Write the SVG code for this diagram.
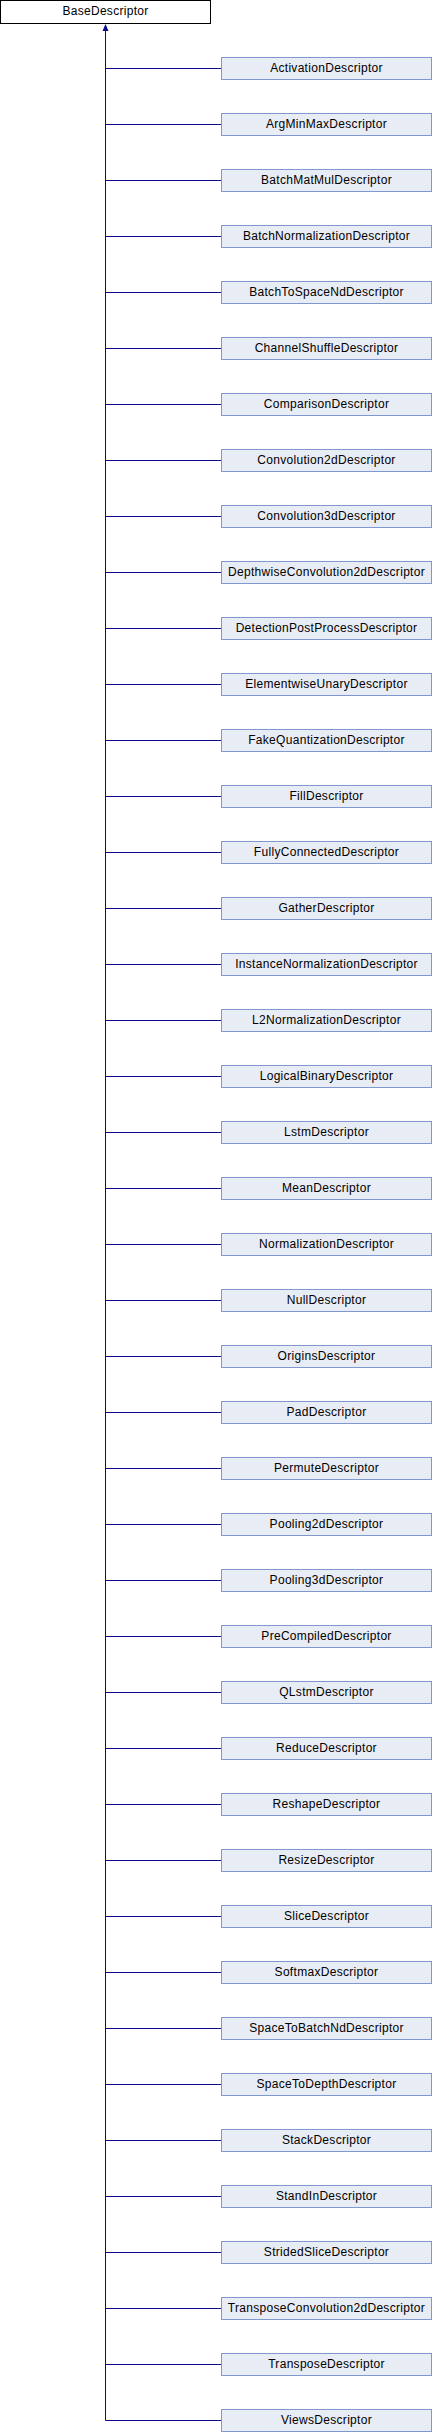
<svg xmlns="http://www.w3.org/2000/svg" width="432" height="2432" viewBox="0 0 432 2432">
<style>
.base rect{fill:#ffffff;stroke:#000000;stroke-width:1}
.node rect{fill:#e8ecf5;stroke:#7f99cf;stroke-width:1}
text{font-family:"Liberation Sans",Arial,sans-serif;font-size:12px;letter-spacing:0.3px;fill:#000000;text-anchor:middle}
.edges path{stroke:#0a0a8f;stroke-width:1;fill:none}
.edges polygon{fill:#0a0a8f;stroke:none}
</style>
<rect width="432" height="2432" fill="#ffffff"/>
<g id="BaseDescriptor" class="base"><rect x="0.5" y="0.5" width="210" height="23"/><text x="105.5" y="15">BaseDescriptor</text></g>
<g class="edges" id="edges">
<path d="M105.5 30 V2420.5"/>
<polygon points="105.5,24 102.5,31 108.5,31"/>
<path d="M105.5 68.5 H221 M105.5 124.5 H221 M105.5 180.5 H221 M105.5 236.5 H221 M105.5 292.5 H221 M105.5 348.5 H221 M105.5 404.5 H221 M105.5 460.5 H221 M105.5 516.5 H221 M105.5 572.5 H221 M105.5 628.5 H221 M105.5 684.5 H221 M105.5 740.5 H221 M105.5 796.5 H221 M105.5 852.5 H221 M105.5 908.5 H221 M105.5 964.5 H221 M105.5 1020.5 H221 M105.5 1076.5 H221 M105.5 1132.5 H221 M105.5 1188.5 H221 M105.5 1244.5 H221 M105.5 1300.5 H221 M105.5 1356.5 H221 M105.5 1412.5 H221 M105.5 1468.5 H221 M105.5 1524.5 H221 M105.5 1580.5 H221 M105.5 1636.5 H221 M105.5 1692.5 H221 M105.5 1748.5 H221 M105.5 1804.5 H221 M105.5 1860.5 H221 M105.5 1916.5 H221 M105.5 1972.5 H221 M105.5 2028.5 H221 M105.5 2084.5 H221 M105.5 2140.5 H221 M105.5 2196.5 H221 M105.5 2252.5 H221 M105.5 2308.5 H221 M105.5 2364.5 H221 M105.5 2420.5 H221"/>
</g>
<g id="ActivationDescriptor" class="node"><rect x="221.5" y="57.5" width="210" height="22"/><text x="326.5" y="72">ActivationDescriptor</text></g>
<g id="ArgMinMaxDescriptor" class="node"><rect x="221.5" y="113.5" width="210" height="22"/><text x="326.5" y="128">ArgMinMaxDescriptor</text></g>
<g id="BatchMatMulDescriptor" class="node"><rect x="221.5" y="169.5" width="210" height="22"/><text x="326.5" y="184">BatchMatMulDescriptor</text></g>
<g id="BatchNormalizationDescriptor" class="node"><rect x="221.5" y="225.5" width="210" height="22"/><text x="326.5" y="240">BatchNormalizationDescriptor</text></g>
<g id="BatchToSpaceNdDescriptor" class="node"><rect x="221.5" y="281.5" width="210" height="22"/><text x="326.5" y="296">BatchToSpaceNdDescriptor</text></g>
<g id="ChannelShuffleDescriptor" class="node"><rect x="221.5" y="337.5" width="210" height="22"/><text x="326.5" y="352">ChannelShuffleDescriptor</text></g>
<g id="ComparisonDescriptor" class="node"><rect x="221.5" y="393.5" width="210" height="22"/><text x="326.5" y="408">ComparisonDescriptor</text></g>
<g id="Convolution2dDescriptor" class="node"><rect x="221.5" y="449.5" width="210" height="22"/><text x="326.5" y="464">Convolution2dDescriptor</text></g>
<g id="Convolution3dDescriptor" class="node"><rect x="221.5" y="505.5" width="210" height="22"/><text x="326.5" y="520">Convolution3dDescriptor</text></g>
<g id="DepthwiseConvolution2dDescriptor" class="node"><rect x="221.5" y="561.5" width="210" height="22"/><text x="326.5" y="576">DepthwiseConvolution2dDescriptor</text></g>
<g id="DetectionPostProcessDescriptor" class="node"><rect x="221.5" y="617.5" width="210" height="22"/><text x="326.5" y="632">DetectionPostProcessDescriptor</text></g>
<g id="ElementwiseUnaryDescriptor" class="node"><rect x="221.5" y="673.5" width="210" height="22"/><text x="326.5" y="688">ElementwiseUnaryDescriptor</text></g>
<g id="FakeQuantizationDescriptor" class="node"><rect x="221.5" y="729.5" width="210" height="22"/><text x="326.5" y="744">FakeQuantizationDescriptor</text></g>
<g id="FillDescriptor" class="node"><rect x="221.5" y="785.5" width="210" height="22"/><text x="326.5" y="800">FillDescriptor</text></g>
<g id="FullyConnectedDescriptor" class="node"><rect x="221.5" y="841.5" width="210" height="22"/><text x="326.5" y="856">FullyConnectedDescriptor</text></g>
<g id="GatherDescriptor" class="node"><rect x="221.5" y="897.5" width="210" height="22"/><text x="326.5" y="912">GatherDescriptor</text></g>
<g id="InstanceNormalizationDescriptor" class="node"><rect x="221.5" y="953.5" width="210" height="22"/><text x="326.5" y="968">InstanceNormalizationDescriptor</text></g>
<g id="L2NormalizationDescriptor" class="node"><rect x="221.5" y="1009.5" width="210" height="22"/><text x="326.5" y="1024">L2NormalizationDescriptor</text></g>
<g id="LogicalBinaryDescriptor" class="node"><rect x="221.5" y="1065.5" width="210" height="22"/><text x="326.5" y="1080">LogicalBinaryDescriptor</text></g>
<g id="LstmDescriptor" class="node"><rect x="221.5" y="1121.5" width="210" height="22"/><text x="326.5" y="1136">LstmDescriptor</text></g>
<g id="MeanDescriptor" class="node"><rect x="221.5" y="1177.5" width="210" height="22"/><text x="326.5" y="1192">MeanDescriptor</text></g>
<g id="NormalizationDescriptor" class="node"><rect x="221.5" y="1233.5" width="210" height="22"/><text x="326.5" y="1248">NormalizationDescriptor</text></g>
<g id="NullDescriptor" class="node"><rect x="221.5" y="1289.5" width="210" height="22"/><text x="326.5" y="1304">NullDescriptor</text></g>
<g id="OriginsDescriptor" class="node"><rect x="221.5" y="1345.5" width="210" height="22"/><text x="326.5" y="1360">OriginsDescriptor</text></g>
<g id="PadDescriptor" class="node"><rect x="221.5" y="1401.5" width="210" height="22"/><text x="326.5" y="1416">PadDescriptor</text></g>
<g id="PermuteDescriptor" class="node"><rect x="221.5" y="1457.5" width="210" height="22"/><text x="326.5" y="1472">PermuteDescriptor</text></g>
<g id="Pooling2dDescriptor" class="node"><rect x="221.5" y="1513.5" width="210" height="22"/><text x="326.5" y="1528">Pooling2dDescriptor</text></g>
<g id="Pooling3dDescriptor" class="node"><rect x="221.5" y="1569.5" width="210" height="22"/><text x="326.5" y="1584">Pooling3dDescriptor</text></g>
<g id="PreCompiledDescriptor" class="node"><rect x="221.5" y="1625.5" width="210" height="22"/><text x="326.5" y="1640">PreCompiledDescriptor</text></g>
<g id="QLstmDescriptor" class="node"><rect x="221.5" y="1681.5" width="210" height="22"/><text x="326.5" y="1696">QLstmDescriptor</text></g>
<g id="ReduceDescriptor" class="node"><rect x="221.5" y="1737.5" width="210" height="22"/><text x="326.5" y="1752">ReduceDescriptor</text></g>
<g id="ReshapeDescriptor" class="node"><rect x="221.5" y="1793.5" width="210" height="22"/><text x="326.5" y="1808">ReshapeDescriptor</text></g>
<g id="ResizeDescriptor" class="node"><rect x="221.5" y="1849.5" width="210" height="22"/><text x="326.5" y="1864">ResizeDescriptor</text></g>
<g id="SliceDescriptor" class="node"><rect x="221.5" y="1905.5" width="210" height="22"/><text x="326.5" y="1920">SliceDescriptor</text></g>
<g id="SoftmaxDescriptor" class="node"><rect x="221.5" y="1961.5" width="210" height="22"/><text x="326.5" y="1976">SoftmaxDescriptor</text></g>
<g id="SpaceToBatchNdDescriptor" class="node"><rect x="221.5" y="2017.5" width="210" height="22"/><text x="326.5" y="2032">SpaceToBatchNdDescriptor</text></g>
<g id="SpaceToDepthDescriptor" class="node"><rect x="221.5" y="2073.5" width="210" height="22"/><text x="326.5" y="2088">SpaceToDepthDescriptor</text></g>
<g id="StackDescriptor" class="node"><rect x="221.5" y="2129.5" width="210" height="22"/><text x="326.5" y="2144">StackDescriptor</text></g>
<g id="StandInDescriptor" class="node"><rect x="221.5" y="2185.5" width="210" height="22"/><text x="326.5" y="2200">StandInDescriptor</text></g>
<g id="StridedSliceDescriptor" class="node"><rect x="221.5" y="2241.5" width="210" height="22"/><text x="326.5" y="2256">StridedSliceDescriptor</text></g>
<g id="TransposeConvolution2dDescriptor" class="node"><rect x="221.5" y="2297.5" width="210" height="22"/><text x="326.5" y="2312">TransposeConvolution2dDescriptor</text></g>
<g id="TransposeDescriptor" class="node"><rect x="221.5" y="2353.5" width="210" height="22"/><text x="326.5" y="2368">TransposeDescriptor</text></g>
<g id="ViewsDescriptor" class="node"><rect x="221.5" y="2409.5" width="210" height="22"/><text x="326.5" y="2424">ViewsDescriptor</text></g>
</svg>
